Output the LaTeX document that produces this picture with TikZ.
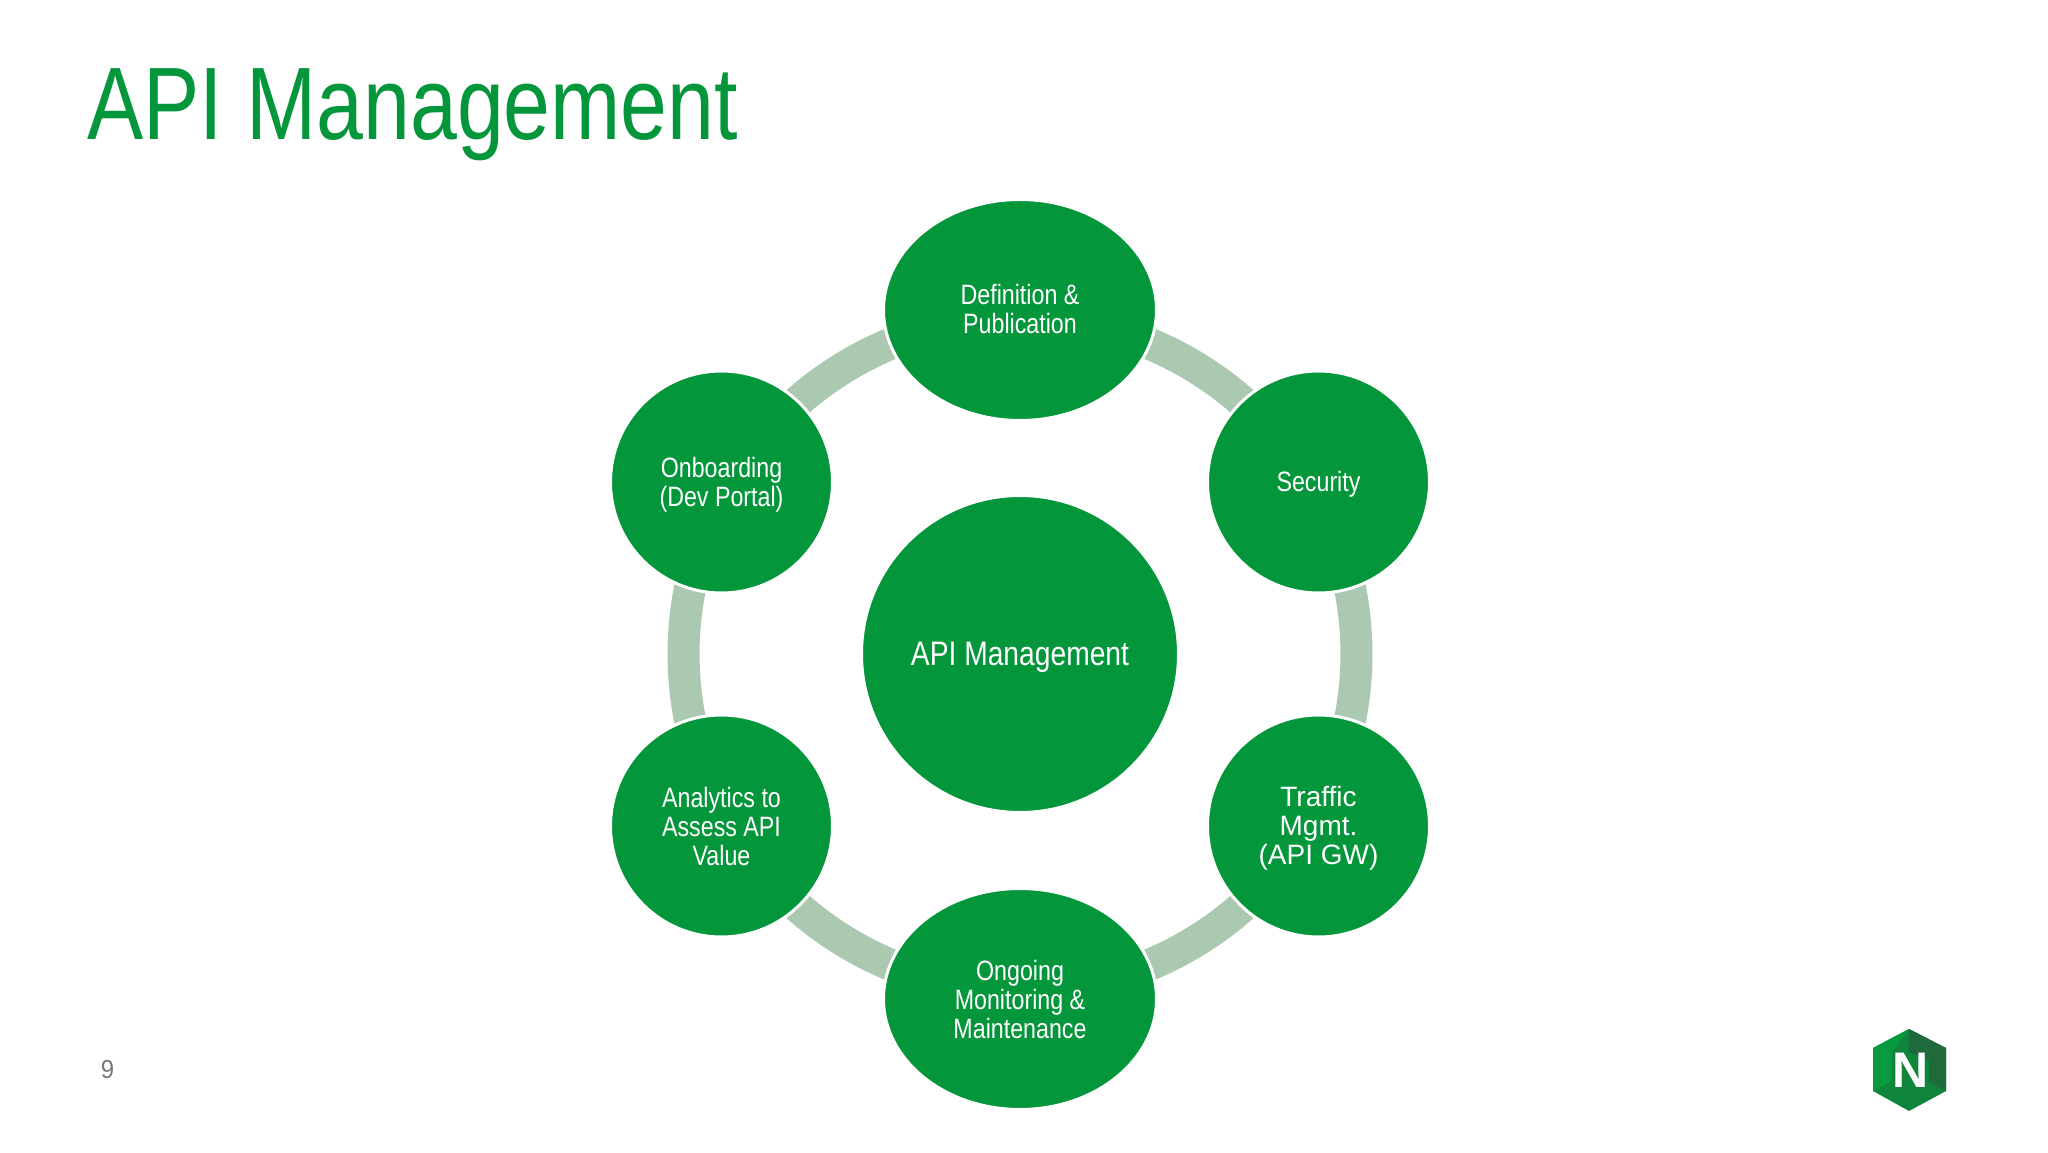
\documentclass[tikz,border=0pt]{standalone}
\usepackage{fontspec}
\setmainfont{Liberation Sans}
\newfontfamily\narrowfont[FakeStretch=0.83]{Liberation Sans}
\newfontfamily\titlefont[FakeStretch=0.818]{Liberation Sans}
\newfontfamily\pagefont[FakeStretch=0.92]{Liberation Sans}
\usetikzlibrary{shapes.geometric,backgrounds,calc}
\definecolor{nodegreen}{HTML}{03963A}
\definecolor{ringgreen}{HTML}{ABC8B0}
\definecolor{logobright}{HTML}{079A3E}
\definecolor{logomid}{HTML}{0E853A}
\definecolor{logodark}{HTML}{1F6A3C}
\definecolor{pagegrey}{HTML}{777777}
\newcommand\topstrut[1]{\rule{0pt}{#1pt}}
\tikzset{
  x=1pt,y=1pt,
  base/.style={fill=nodegreen,draw=white,line width=3pt,inner sep=0pt,outer sep=0pt,text=white,align=center,
    font=\narrowfont\fontsize{28}{29}\selectfont},
  hubnode/.style={base,circle,minimum size=317pt,font=\narrowfont\fontsize{34}{38}\selectfont},
  roundnode/.style={base,circle,minimum size=222pt},
  ovalnode/.style={base,ellipse,minimum width=273pt,minimum height=221pt},
  ringarc/.style={draw=ringgreen,line width=32pt,line cap=butt,bend left=30,looseness=0.912},
}
\begin{document}
\begin{tikzpicture}
\useasboundingbox (0,0) rectangle (2048,1152);
\node[anchor=base west,inner sep=0pt,text=nodegreen,font=\titlefont\fontsize{103}{110}\selectfont] (title) at (87,1012) {API Management};
\node[hubnode] (hub) at (1020,498) {\topstrut{31}API Management};
\node[ovalnode] (n1) at (1020,842) {Definition \&\\Publication\rule[-2.6pt]{0pt}{2.6pt}};
\node[roundnode] (n2) at (1318.5,670) {\topstrut{24}Security};
\node[roundnode,font=\fontsize{28}{29}\selectfont] (n3) at (1318.5,326) {\topstrut{24}Traffic\\Mgmt.\\(API GW)};
\node[ovalnode] (n4) at (1020,153) {Ongoing\\Monitoring \&\\Maintenance};
\node[roundnode] (n5) at (721.5,326) {Analytics to\\Assess API\\Value};
\node[roundnode] (n6) at (721.5,670) {\topstrut{26}Onboarding\\(Dev Portal)};
\begin{scope}[on background layer]
  \fill[white] (0,0) rectangle (2048,1152);
  \foreach \a/\b in {n1/n2,n2/n3,n3/n4,n4/n5,n5/n6,n6/n1}{
    \draw[ringarc] ($(hub)!0.977!(\a)$) to ($(hub)!0.977!(\b)$);
  }
\end{scope}
\node[anchor=center,inner sep=0pt,text=pagegrey,font=\pagefont\fontsize{26}{28}\selectfont] (page) at (107.5,82) {9};
% logo
\fill[logomid,line join=round] (1909,123) -- (1946,104) -- (1946,61) -- (1909,41) -- (1873,61) -- (1873,104) -- cycle;
\fill[logobright] (1909,123) -- (1873,104) -- (1873,61) -- (1892,71) -- (1892,100) -- cycle;
\fill[logodark] (1909,123) -- (1946,104) -- (1946,61) -- (1929,70) -- (1929,92) -- (1909,100) -- cycle;
\node[inner sep=0pt,text=white,font=\bfseries\fontsize{50}{50}\selectfont] (logoN) at (1910.5,82) {N};
\end{tikzpicture}
\end{document}
